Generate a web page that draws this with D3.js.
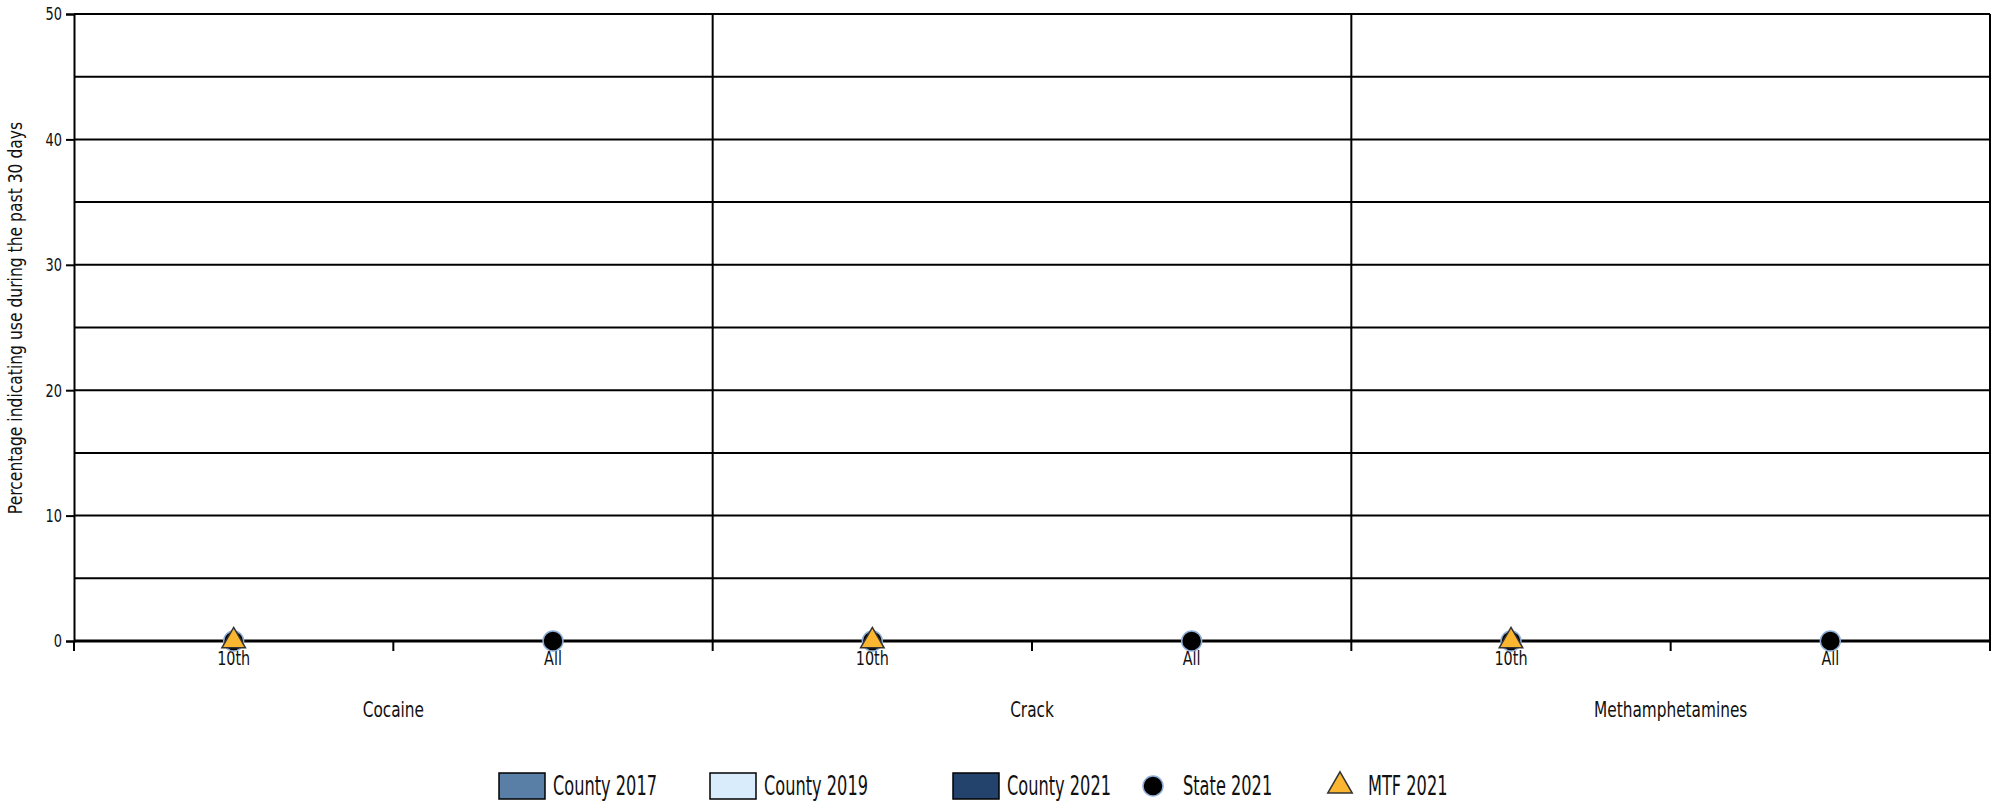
<!DOCTYPE html>
<html>
<head>
<meta charset="utf-8">
<script src="https://cdn.jsdelivr.net/npm/d3@7"></script>
<style>
  body { margin: 0; background: #fff; }
  svg text { font-family: "DejaVu Sans", sans-serif; fill: #111; }
</style>
</head>
<body>
<div id="chart"></div>
<script>
// drugs and grade groups
var drugs = ["Cocaine", "Crack", "Methamphetamines"];
var grades = ["10th", "All"];

// county bars (no data in this chart)
var county2017 = [[null, null], [null, null], [null, null]];
var county2019 = [[null, null], [null, null], [null, null]];
var county2021 = [[null, null], [null, null], [null, null]];

// state and MTF markers
var state2021 = [[0, 0], [0, 0], [0, 0]];
var mtf2021 = [[0, null], [0, null], [0, null]];

var yTicks = [0, 10, 20, 30, 40, 50];
var yGrid = [5, 10, 15, 20, 25, 30, 35, 40, 45, 50];

var legendItems = [
  {label: "County 2017", type: "rect", color: "#5a7fa7"},
  {label: "County 2019", type: "rect", color: "#d8ecfb"},
  {label: "County 2021", type: "rect", color: "#24436c"},
  {label: "State 2021", type: "circle", color: "#000"},
  {label: "MTF 2021", type: "triangle", color: "#fbb631"}
];

var width = 1995, height = 804;
var margin = {top: 14, right: 5, bottom: 163, left: 74};
var innerW = width - margin.left - margin.right;
var innerH = height - margin.top - margin.bottom;

var svg = d3.select("#chart")
  .append("svg")
    .attr("width", width)
    .attr("height", height);

// narrow text, the original uses a condensed face
function addText(parent, x, y, str, size, sx, anchor, rot)
{
  var t = parent.append("g")
    .attr("transform", `translate(${x},${y}) rotate(${rot || 0}) scale(${sx},1)`)
    .append("text")
      .attr("text-anchor", anchor || "middle")
      .attr("dy", "0.35em")
      .style("font-size", size + "px")
      .text(str);
  return t;
}

var g = svg.append("g")
  .attr("transform", `translate(${margin.left},${margin.top})`);

var x0 = d3.scaleBand().domain(drugs).range([0, innerW]).padding(0);
var x1 = d3.scaleBand().domain(grades).range([0, x0.bandwidth()]).padding(0);
var y = d3.scaleLinear().domain([0, 50]).range([innerH, 0]);

// horizontal grid lines
g.selectAll(".grid")
  .data(yGrid)
  .enter()
  .append("line")
    .attr("x1", 0)
    .attr("x2", innerW)
    .attr("y1", d => y(d))
    .attr("y2", d => y(d))
    .attr("stroke", "#000")
    .attr("stroke-width", 2);

// group separators
g.selectAll(".sep")
  .data(drugs.slice(1).concat(["__end"]))
  .enter()
  .append("line")
    .attr("x1", d => d == "__end" ? innerW : x0(d))
    .attr("x2", d => d == "__end" ? innerW : x0(d))
    .attr("y1", 0)
    .attr("y2", innerH)
    .attr("stroke", "#000")
    .attr("stroke-width", 2);

// y axis
var yAxis = g.append("g")
  .call(d3.axisLeft(y).tickValues(yTicks).tickSize(8).tickFormat(""));
yAxis.select(".domain").attr("stroke-width", 2);
yAxis.selectAll(".tick line").attr("stroke-width", 2);
yTicks.forEach(function(v) {
  addText(g, -12, y(v), v, 18, 0.72, "end");
});

// x axis: ticks between grades and at group boundaries
var xAxis = g.append("g").attr("transform", `translate(0,${innerH})`);
xAxis.append("line")
  .attr("x1", 0).attr("x2", innerW)
  .attr("stroke", "#000").attr("stroke-width", 3);

var tickXs = [0];
drugs.forEach(function(d) {
  tickXs.push(x0(d) + x1.bandwidth());
  tickXs.push(x0(d) + x0.bandwidth());
});
xAxis.selectAll(".xtick")
  .data(tickXs)
  .enter()
  .append("line")
    .attr("x1", d => d).attr("x2", d => d)
    .attr("y1", 0).attr("y2", 10)
    .attr("stroke", "#000").attr("stroke-width", 2);

drugs.forEach(function(drug) {
  grades.forEach(function(gr) {
    addText(xAxis, x0(drug) + x1(gr) + x1.bandwidth() / 2, 17, gr, 20, 0.72);
  });
  addText(xAxis, x0(drug) + x0.bandwidth() / 2, 69, drug, 21, 0.73);
});

// y axis title
addText(svg, 15, 318, "Percentage indicating use during the past 30 days", 19, 0.82, "middle", -90);

// county bars (drawn if any values exist)
var barSeries = [county2017, county2019, county2021];
var xb = d3.scaleBand().domain([0, 1, 2]).range([0, x1.bandwidth()]).padding(0.1);
barSeries.forEach(function(series, si) {
  drugs.forEach(function(drug, di) {
    grades.forEach(function(gr, gi) {
      var v = series[di][gi];
      if (v == null) return;
      g.append("rect")
        .attr("x", x0(drug) + x1(gr) + xb(si))
        .attr("y", y(v))
        .attr("width", xb.bandwidth())
        .attr("height", innerH - y(v))
        .attr("fill", legendItems[si].color)
        .attr("stroke", "#000");
    });
  });
});

// state circles
drugs.forEach(function(drug, di) {
  grades.forEach(function(gr, gi) {
    var v = state2021[di][gi];
    if (v == null) return;
    g.append("circle")
      .attr("cx", x0(drug) + x1(gr) + x1.bandwidth() / 2)
      .attr("cy", y(v))
      .attr("r", 10)
      .attr("fill", "#000")
      .attr("stroke", "#8eaed6")
      .attr("stroke-width", 1.5);
  });
});

// MTF triangles
var tri = d3.symbol().type(d3.symbolTriangle).size(240);
drugs.forEach(function(drug, di) {
  grades.forEach(function(gr, gi) {
    var v = mtf2021[di][gi];
    if (v == null) return;
    g.append("path")
      .attr("d", tri())
      .attr("transform", `translate(${x0(drug) + x1(gr) + x1.bandwidth() / 2},${y(v)})`)
      .attr("fill", "#fbb631")
      .attr("stroke", "#333")
      .attr("stroke-width", 1.5);
  });
});

// legend
var legendX = [499, 710, 953, 1153, 1340];
var legendY = 786;
var legend = svg.append("g");
legendItems.forEach(function(item, i) {
  var lg = legend.append("g").attr("transform", `translate(${legendX[i]},${legendY})`);
  var textX;
  if (item.type == "rect") {
    lg.append("rect")
      .attr("x", 0).attr("y", -13)
      .attr("width", 46).attr("height", 26)
      .attr("fill", item.color)
      .attr("stroke", "#000").attr("stroke-width", 1.5);
    textX = 54;
  } else if (item.type == "circle") {
    lg.append("circle")
      .attr("r", 10)
      .attr("fill", "#000")
      .attr("stroke", "#8eaed6").attr("stroke-width", 1.5);
    textX = 30;
  } else {
    lg.append("path")
      .attr("d", d3.symbol().type(d3.symbolTriangle).size(260)())
      .attr("fill", item.color)
      .attr("stroke", "#333").attr("stroke-width", 1.5);
    textX = 28;
  }
  addText(lg, textX, 0, item.label, 27, 0.6, "start");
});
</script>
</body>
</html>
